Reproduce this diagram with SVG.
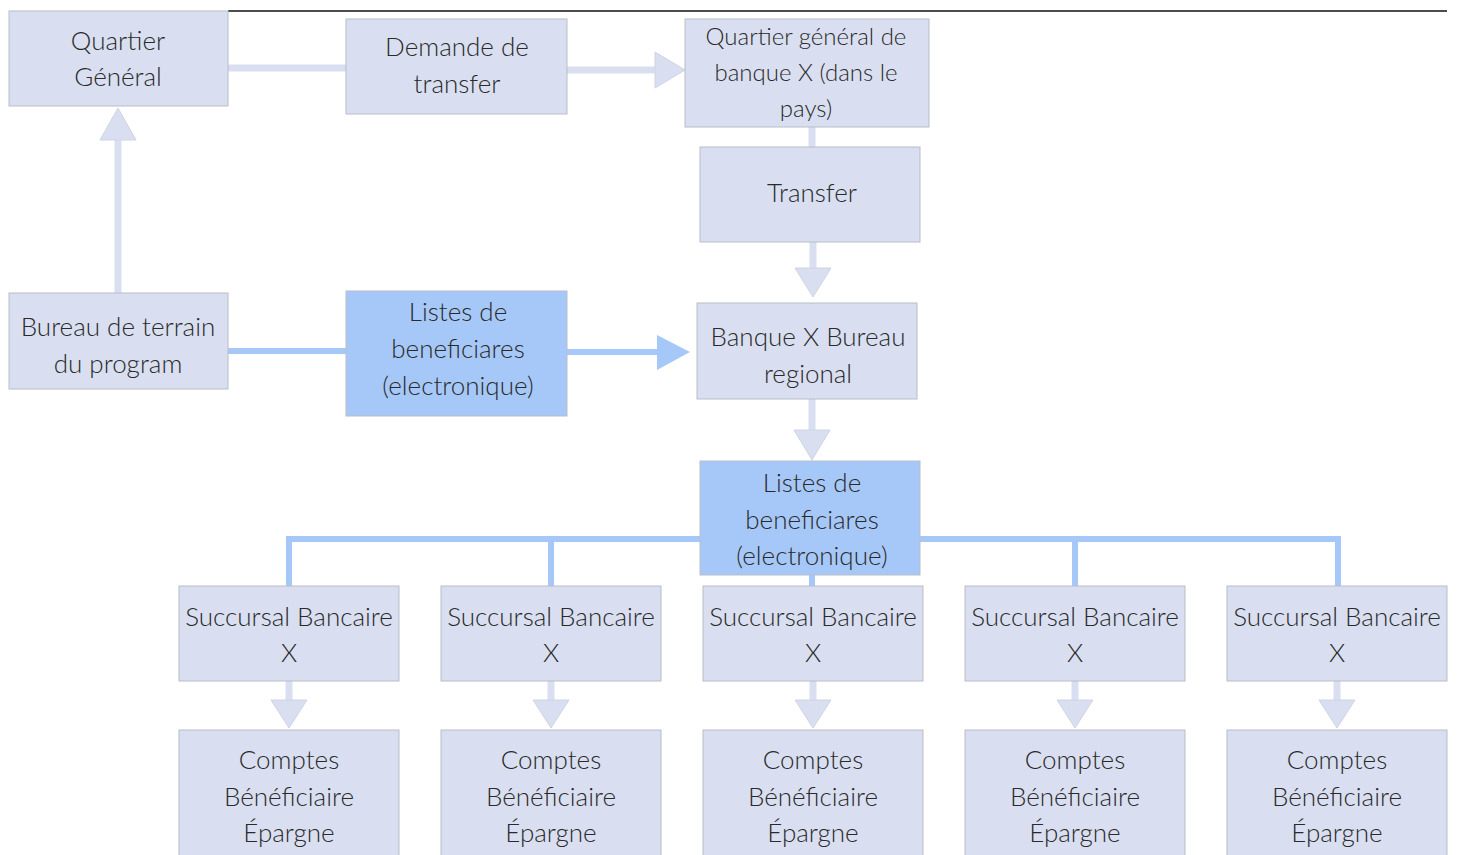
<svg xmlns="http://www.w3.org/2000/svg" width="1462" height="855" viewBox="0 0 1462 855">
<style>
.box{fill:#d9dff0;stroke:#b9bdc9;stroke-width:1}
.blue{fill:#a6c8f8;stroke:#b9bdc9;stroke-width:1}
text{font-family:Lato,"Open Sans","Liberation Sans",sans-serif;font-size:26px;font-weight:300;fill:#2a2a2a;text-anchor:middle}
.band{stroke:#d9dff0;stroke-width:7;fill:none}
.bline{stroke:#a6c8f8;stroke-width:6;fill:none}
.head{fill:#d9dff0;stroke:#cfd4e2;stroke-width:1}
.bhead{fill:#a6c8f8}
</style>
<rect width="1462" height="855" fill="#fff"/>
<line x1="228" y1="11" x2="1447" y2="11" stroke="#111" stroke-width="1.5"/>
<g id="connectors">
<line class="band" x1="228" y1="68" x2="346" y2="68"/>
<line class="band" x1="567" y1="70" x2="658" y2="70"/>
<polygon class="head" points="655,52 685,70 655,88"/>
<line class="band" x1="812" y1="127" x2="812" y2="147"/>
<line class="band" x1="813" y1="242" x2="813" y2="270"/>
<polygon class="head" points="795,268 831,268 813,297"/>
<line class="band" x1="118" y1="293" x2="118" y2="138"/>
<polygon class="head" points="100,140 136,140 118,108"/>
<line class="bline" x1="228" y1="351" x2="346" y2="351"/>
<line class="bline" x1="567" y1="352" x2="660" y2="352"/>
<polygon class="bhead" points="657,335 690,352 657,370"/>
<line class="band" x1="812" y1="399" x2="812" y2="432"/>
<polygon class="head" points="794,430 830,430 812,460"/>
<polyline class="bline" points="289,586 289,539 1338,539 1338,586"/>
<line class="bline" x1="551" y1="539" x2="551" y2="586"/>
<line class="bline" x1="1075" y1="539" x2="1075" y2="586"/>
<line class="bline" x1="812" y1="575" x2="812" y2="586"/>
<line class="band" x1="289" y1="681" x2="289" y2="702"/>
<polygon class="head" points="271,700 307,700 289,728"/>
<line class="band" x1="551" y1="681" x2="551" y2="702"/>
<polygon class="head" points="533,700 569,700 551,728"/>
<line class="band" x1="813" y1="681" x2="813" y2="702"/>
<polygon class="head" points="795,700 831,700 813,728"/>
<line class="band" x1="1075" y1="681" x2="1075" y2="702"/>
<polygon class="head" points="1057,700 1093,700 1075,728"/>
<line class="band" x1="1337" y1="681" x2="1337" y2="702"/>
<polygon class="head" points="1319,700 1355,700 1337,728"/>
</g>
<g id="qg"><rect class="box" x="9" y="11" width="219" height="95"/><text x="118" y="50">Quartier</text><text x="118" y="86">Général</text></g>
<g id="demande"><rect class="box" x="346" y="19" width="221" height="95"/><text x="457" y="56">Demande de</text><text x="457" y="93">transfer</text></g>
<g id="qgbanque"><rect class="box" x="685" y="19" width="244" height="108"/><text x="806" y="45" style="font-size:24px">Quartier général de</text><text x="806" y="81" style="font-size:24px">banque X (dans le</text><text x="806" y="117" style="font-size:24px">pays)</text></g>
<g id="transfer"><rect class="box" x="700" y="147" width="220" height="95"/><text x="812" y="202">Transfer</text></g>
<g id="bureau"><rect class="box" x="9" y="293" width="219" height="96"/><text x="118" y="336">Bureau de terrain</text><text x="118" y="373">du program</text></g>
<g id="listes1"><rect class="blue" x="346" y="291" width="221" height="125"/><text x="458" y="321">Listes de</text><text x="458" y="358">beneficiares</text><text x="458" y="395">(electronique)</text></g>
<g id="regional"><rect class="box" x="697" y="303" width="220" height="96"/><text x="808" y="346">Banque X Bureau</text><text x="808" y="383">regional</text></g>
<g id="listes2"><rect class="blue" x="700" y="461" width="220" height="114"/><text x="812" y="492">Listes de</text><text x="812" y="529">beneficiares</text><text x="812" y="565">(electronique)</text></g>
<g id="succ1"><rect class="box" x="179" y="586" width="220" height="95"/><text x="289" y="626">Succursal Bancaire</text><text x="289" y="662">X</text></g>
<g id="succ2"><rect class="box" x="441" y="586" width="220" height="95"/><text x="551" y="626">Succursal Bancaire</text><text x="551" y="662">X</text></g>
<g id="succ3"><rect class="box" x="703" y="586" width="220" height="95"/><text x="813" y="626">Succursal Bancaire</text><text x="813" y="662">X</text></g>
<g id="succ4"><rect class="box" x="965" y="586" width="220" height="95"/><text x="1075" y="626">Succursal Bancaire</text><text x="1075" y="662">X</text></g>
<g id="succ5"><rect class="box" x="1227" y="586" width="220" height="95"/><text x="1337" y="626">Succursal Bancaire</text><text x="1337" y="662">X</text></g>
<g id="comptes1"><rect class="box" x="179" y="730" width="220" height="130"/><text x="289" y="769">Comptes</text><text x="289" y="806">Bénéficiaire</text><text x="289" y="842">Épargne</text></g>
<g id="comptes2"><rect class="box" x="441" y="730" width="220" height="130"/><text x="551" y="769">Comptes</text><text x="551" y="806">Bénéficiaire</text><text x="551" y="842">Épargne</text></g>
<g id="comptes3"><rect class="box" x="703" y="730" width="220" height="130"/><text x="813" y="769">Comptes</text><text x="813" y="806">Bénéficiaire</text><text x="813" y="842">Épargne</text></g>
<g id="comptes4"><rect class="box" x="965" y="730" width="220" height="130"/><text x="1075" y="769">Comptes</text><text x="1075" y="806">Bénéficiaire</text><text x="1075" y="842">Épargne</text></g>
<g id="comptes5"><rect class="box" x="1227" y="730" width="220" height="130"/><text x="1337" y="769">Comptes</text><text x="1337" y="806">Bénéficiaire</text><text x="1337" y="842">Épargne</text></g>
</svg>
